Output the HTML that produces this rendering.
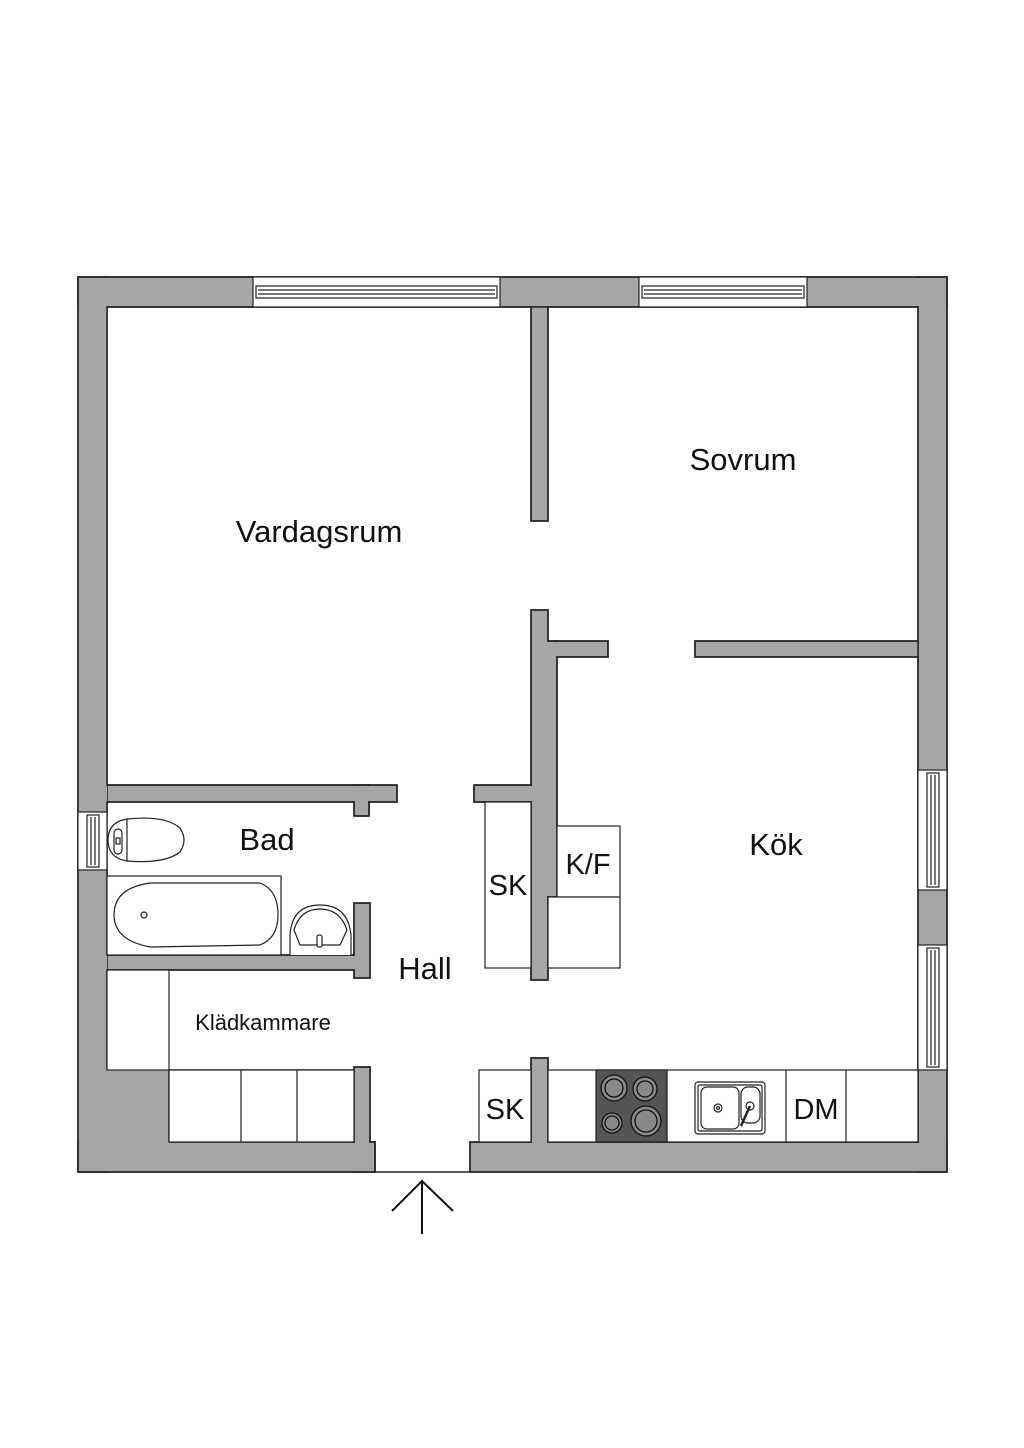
<!DOCTYPE html>
<html><head><meta charset="utf-8"><style>
html,body{margin:0;padding:0;background:#fff}
svg{display:block}
text{font-family:"Liberation Sans",sans-serif;fill:#111}
</style></head><body>
<svg width="1024" height="1448" viewBox="0 0 1024 1448" xmlns="http://www.w3.org/2000/svg">
<rect width="1024" height="1448" fill="#fff"/>
<g fill="#a6a6a6" stroke="#222" stroke-width="1.5">
<rect x="78" y="277" width="869" height="30"/>
<rect x="78" y="277" width="29" height="895"/>
<rect x="918" y="277" width="29" height="895"/>
<rect x="78" y="1142" width="297" height="30"/>
<rect x="470" y="1142" width="477" height="30"/>
<rect x="531" y="307" width="17" height="214"/>
<rect x="531" y="610" width="17" height="370"/>
<rect x="548" y="641" width="60" height="16"/>
<rect x="548" y="641" width="9" height="256"/>
<rect x="695" y="641" width="223" height="16"/>
<rect x="531" y="1058" width="17" height="90"/>
<rect x="107" y="785" width="290" height="17"/>
<rect x="354" y="785" width="15" height="31"/>
<rect x="474" y="785" width="58" height="17"/>
<rect x="107" y="955" width="247" height="15"/>
<rect x="354" y="903" width="16" height="75"/>
<rect x="354" y="1067" width="16" height="80"/>
<rect x="354" y="1142" width="21" height="30"/>
</g>
<g fill="#a6a6a6">
<rect x="79" y="278" width="28" height="893"/>
<rect x="79" y="278" width="867" height="28"/>
<rect x="919" y="278" width="27" height="893"/>
<rect x="79" y="1143" width="295" height="28"/>
<rect x="471" y="1143" width="475" height="28"/>
<rect x="532" y="308" width="15" height="212"/>
<rect x="532" y="611" width="15" height="368"/>
<rect x="532" y="642" width="24" height="254"/>
<rect x="532" y="642" width="75" height="14"/>
<rect x="532" y="1059" width="15" height="88"/>
<rect x="108" y="786" width="288" height="15"/>
<rect x="355" y="786" width="13" height="29"/>
<rect x="475" y="786" width="57" height="15"/>
<rect x="108" y="956" width="261" height="13"/>
<rect x="355" y="904" width="14" height="73"/>
<rect x="355" y="1068" width="14" height="103"/>
<rect x="100" y="1070" width="69" height="80"/>
</g>
<g fill="none" stroke="#222" stroke-width="1.5">
<polyline points="107,1070 107,970 354,970 354,978 370,978 370,903 354,903 354,955 107,955 107,870"/>
<polyline points="107,812 107,802 354,802 354,816 369,816 369,802 397,802 397,785 107,785 107,307 531,307 531,521 548,521 548,307 918,307 918,641 695,641 695,657 918,657 918,1142 548,1142 548,1058 531,1058 531,1142 470,1142 470,1172 375,1172 375,1142 370,1142 370,1067 354,1067 354,1070 169,1070 169,1142"/>
<polyline points="474,785 531,785 531,610 548,610 548,641 608,641 608,657 557,657 557,897 548,897 548,980 531,980 531,802 474,802 474,785"/>
<line x1="78" y1="277" x2="947" y2="277"/>
<line x1="78" y1="1172" x2="375" y2="1172"/>
<line x1="470" y1="1172" x2="947" y2="1172"/>
<line x1="78" y1="277" x2="78" y2="1172"/>
<line x1="947" y1="277" x2="947" y2="1172"/>
</g>
<g fill="#fff" stroke="#222" stroke-width="1.2">
<rect x="253" y="277" width="247" height="30"/>
<rect x="256" y="286" width="241" height="12"/>
<line x1="258" y1="290" x2="495" y2="290"/><line x1="258" y1="294" x2="495" y2="294"/>
<rect x="639" y="277" width="168" height="30"/>
<rect x="642" y="286" width="162" height="12"/>
<line x1="644" y1="290" x2="802" y2="290"/><line x1="644" y1="294" x2="802" y2="294"/>
<rect x="918" y="770" width="29" height="120"/>
<rect x="927" y="773" width="12" height="114"/>
<line x1="931" y1="775" x2="931" y2="885"/><line x1="935" y1="775" x2="935" y2="885"/>
<rect x="918" y="945" width="29" height="125"/>
<rect x="927" y="948" width="12" height="119"/>
<line x1="931" y1="950" x2="931" y2="1065"/><line x1="935" y1="950" x2="935" y2="1065"/>
<rect x="78" y="812" width="29" height="58"/>
<rect x="87" y="815" width="12" height="52"/>
<line x1="91" y1="817" x2="91" y2="865"/><line x1="95" y1="817" x2="95" y2="865"/>
</g>
<g fill="#fff" stroke="#222" stroke-width="1.2">
<rect x="107" y="876" width="174" height="79"/>
<path d="M150,883 L260,883 Q278,890 278,915 Q278,938 260,945 L150,947 Q114,940 114,915 Q114,888 150,883 Z"/>
<circle cx="144" cy="915" r="3"/>
<path d="M290,955 L290,935 Q292,905 320,905 Q348,905 351,935 L351,955"/>
<path d="M294,930 Q300,909 320,909 Q340,909 347,930 L340,945 L300,945 Z"/>
<rect x="317" y="935" width="5" height="12" rx="2"/>
<path d="M127,819 Q165,815 180,828 Q188,840 180,852 Q165,864 127,861"/>
<path d="M127,819 Q108,822 108,840 Q108,858 127,861 Z"/>
<rect x="114" y="829" width="8" height="25" rx="4"/>
<rect x="116" y="838" width="4" height="6"/>
<rect x="107" y="970" width="62" height="100"/>
<rect x="169" y="1070" width="185" height="72"/>
<line x1="241" y1="1070" x2="241" y2="1142"/>
<line x1="297" y1="1070" x2="297" y2="1142"/>
<rect x="485" y="802" width="46" height="166"/>
<rect x="557" y="826" width="63" height="71"/>
<rect x="548" y="897" width="72" height="71"/>
<rect x="479" y="1070" width="52" height="72"/>
<rect x="548" y="1070" width="370" height="72"/>
<line x1="667" y1="1070" x2="667" y2="1142"/>
<line x1="786" y1="1070" x2="786" y2="1142"/>
<line x1="846" y1="1070" x2="846" y2="1142"/>
</g>
<rect x="596" y="1070" width="71" height="72" fill="#555" stroke="#222" stroke-width="1.2"/>
<g stroke="#111" stroke-width="1.3" fill="#888">
<circle cx="614" cy="1088" r="13"/><circle cx="614" cy="1088" r="9"/>
<circle cx="645" cy="1089" r="12"/><circle cx="645" cy="1089" r="8"/>
<circle cx="612" cy="1123" r="10"/><circle cx="612" cy="1123" r="7"/>
<circle cx="646" cy="1121" r="15"/><circle cx="646" cy="1121" r="11"/>
</g>
<g fill="#fff" stroke="#222" stroke-width="1.2">
<rect x="695" y="1082" width="70" height="52" rx="3"/>
<rect x="698" y="1085" width="64" height="46" rx="2"/>
<rect x="701" y="1087" width="38" height="42" rx="6"/>
<rect x="741" y="1087" width="19" height="36" rx="7"/>
<circle cx="718" cy="1108" r="4"/><circle cx="718" cy="1108" r="1.5"/>
<circle cx="750" cy="1106" r="4"/>
<line x1="750" y1="1106" x2="741" y2="1126" stroke-width="2.5"/>
</g>
<g stroke="#111" stroke-width="2" fill="none">
<line x1="422" y1="1181" x2="422" y2="1234"/>
<polyline points="392,1211 422,1181 453,1211"/>
</g>
<g text-anchor="middle">
<text x="319" y="542" font-size="31">Vardagsrum</text>
<text x="743" y="470" font-size="31">Sovrum</text>
<text x="267" y="850" font-size="31">Bad</text>
<text x="425" y="979" font-size="31">Hall</text>
<text x="263" y="1030" font-size="22">Klädkammare</text>
<text x="508" y="895" font-size="29">SK</text>
<text x="588" y="874" font-size="29">K/F</text>
<text x="776" y="855" font-size="31">Kök</text>
<text x="505" y="1119" font-size="29">SK</text>
<text x="816" y="1119" font-size="29">DM</text>
</g>
</svg>
</body></html>
